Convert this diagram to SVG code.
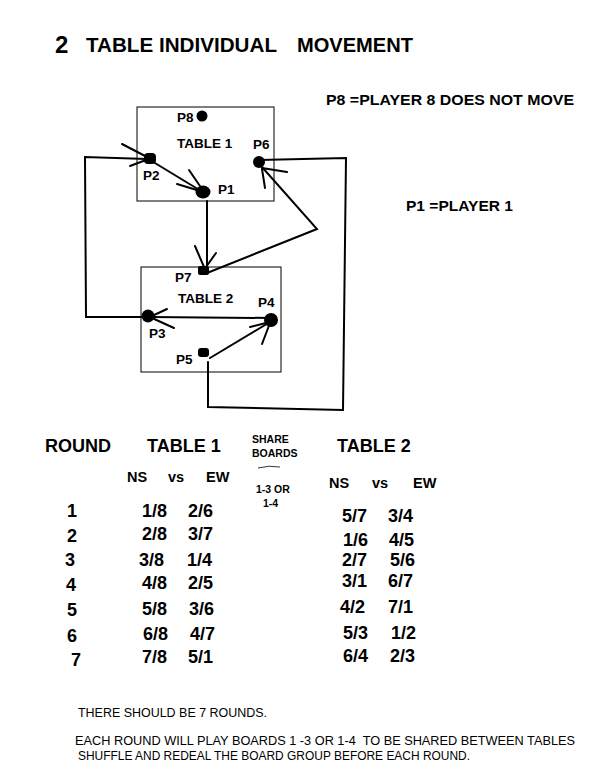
<svg xmlns="http://www.w3.org/2000/svg" width="595" height="771" viewBox="0 0 595 771">
<style>
text{font-family:"Liberation Sans",Arial,sans-serif;fill:#000}
.b{font-weight:bold}
.lbl{font-weight:bold;font-size:13.5px}
.hdr{font-weight:bold;font-size:18px}
.sub{font-weight:bold;font-size:14.5px}
.num{font-weight:bold;font-size:18px}
.note{font-size:12.5px}
.box{fill:#fff;stroke:#000;stroke-width:1}
.dot{fill:#000}
.cn{fill:none;stroke:#000;stroke-width:2;stroke-linecap:round;stroke-linejoin:miter}
</style>
<rect width="595" height="771" fill="#fff"/>

<g id="title">
<text x="55" y="53" class="b" font-size="24">2</text>
<text x="86" y="52" class="b" font-size="20" textLength="191" lengthAdjust="spacingAndGlyphs">TABLE INDIVIDUAL</text>
<text x="297" y="52" class="b" font-size="20" textLength="116" lengthAdjust="spacingAndGlyphs">MOVEMENT</text>
</g>

<g id="legend">
<text x="326" y="105" class="b" font-size="14" textLength="248" lengthAdjust="spacingAndGlyphs">P8 =PLAYER 8 DOES NOT MOVE</text>
<text x="406" y="211" class="b" font-size="14" textLength="107" lengthAdjust="spacingAndGlyphs">P1 =PLAYER 1</text>
</g>

<g id="table1">
<rect class="box" x="137" y="107" width="137" height="94"/>
<text x="177" y="148" class="b" font-size="13.5">TABLE 1</text>
</g>
<g id="table2">
<rect class="box" x="141" y="267" width="140" height="105"/>
<text x="178" y="303" class="b" font-size="13.5">TABLE 2</text>
</g>

<g id="connectors" class="cn">
<path d="M148,317 L86,317 L85,157 L147,159"/>
<path d="M122,144 L147,157 M130,166 L146,160"/>
<path d="M150,160 L201,191"/>
<path d="M189,170 L202,189 M177,184 L200,191"/>
<path d="M207,201 L207,266"/>
<path d="M195,246 L204,267 M216,253 L206,267"/>
<path d="M207,273 L317,229 L262,167"/>
<path d="M287,172 L262,168 M265,188 L262,169"/>
<path d="M259,160 L346,158 L343,410 L208,407 L208,362"/>
<path d="M210,358 L270,322"/>
<path d="M250,327 L270,322 M262,344 L270,323"/>
<path d="M271,318 L150,317"/>
<path d="M167,309 L152,316 M174,328 L152,318"/>
</g>

<g id="p8"><circle class="dot" cx="202" cy="116" r="5.5"/><text x="177" y="122" class="lbl">P8</text></g>
<g id="p6"><circle class="dot" cx="259" cy="162" r="6"/><text x="253" y="149" class="lbl">P6</text></g>
<g id="p2"><rect class="dot" x="144" y="153" width="12" height="11" rx="4"/><text x="143" y="180" class="lbl">P2</text></g>
<g id="p1"><ellipse class="dot" cx="203" cy="192" rx="7.5" ry="6.5"/><text x="218" y="194" class="lbl">P1</text></g>
<g id="p7"><rect class="dot" x="198" y="266" width="11" height="9" rx="2"/><text x="175" y="282" class="lbl">P7</text></g>
<g id="p3"><circle class="dot" cx="148" cy="316" r="6.5"/><text x="149" y="338" class="lbl">P3</text></g>
<g id="p4"><circle class="dot" cx="271" cy="320" r="7"/><text x="258" y="307" class="lbl">P4</text></g>
<g id="p5"><rect class="dot" x="198" y="348" width="11" height="9" rx="3"/><text x="176" y="364" class="lbl">P5</text></g>

<g id="schedule">
<text x="45" y="452" class="hdr">ROUND</text>
<text x="147" y="452" class="hdr">TABLE 1</text>
<text x="337" y="452" class="hdr">TABLE 2</text>
<text x="252" y="443" class="b" font-size="10.5">SHARE</text>
<text x="252" y="457" class="b" font-size="10.5">BOARDS</text>
<path d="M258,468 Q269,465 280,467" fill="none" stroke="#000" stroke-width="0.8"/>
<text x="256" y="493" class="b" font-size="10.5">1-3 OR</text>
<text x="263" y="507" class="b" font-size="10.5">1-4</text>
<text x="127" y="482" class="sub">NS</text>
<text x="168" y="482" class="sub">vs</text>
<text x="206" y="482" class="sub">EW</text>
<text x="329" y="488" class="sub">NS</text>
<text x="372" y="488" class="sub">vs</text>
<text x="413" y="488" class="sub">EW</text>

<text x="67" y="517" class="num">1</text>
<text x="67" y="542" class="num">2</text>
<text x="65" y="566" class="num">3</text>
<text x="66" y="591" class="num">4</text>
<text x="67" y="616" class="num">5</text>
<text x="67" y="642" class="num">6</text>
<text x="71" y="666" class="num">7</text>

<text x="142" y="517" class="num">1/8</text><text x="188" y="517" class="num">2/6</text>
<text x="142" y="540" class="num">2/8</text><text x="188" y="540" class="num">3/7</text>
<text x="139" y="566" class="num">3/8</text><text x="187" y="566" class="num">1/4</text>
<text x="142" y="589" class="num">4/8</text><text x="188" y="589" class="num">2/5</text>
<text x="142" y="615" class="num">5/8</text><text x="189" y="615" class="num">3/6</text>
<text x="143" y="640" class="num">6/8</text><text x="190" y="640" class="num">4/7</text>
<text x="142" y="663" class="num">7/8</text><text x="188" y="663" class="num">5/1</text>

<text x="342" y="522" class="num">5/7</text><text x="388" y="522" class="num">3/4</text>
<text x="343" y="546" class="num">1/6</text><text x="389" y="546" class="num">4/5</text>
<text x="342" y="566" class="num">2/7</text><text x="390" y="566" class="num">5/6</text>
<text x="342" y="587" class="num">3/1</text><text x="388" y="587" class="num">6/7</text>
<text x="340" y="613" class="num">4/2</text><text x="388" y="613" class="num">7/1</text>
<text x="343" y="639" class="num">5/3</text><text x="391" y="639" class="num">1/2</text>
<text x="343" y="662" class="num">6/4</text><text x="390" y="662" class="num">2/3</text>
</g>

<g id="notes">
<text x="78" y="717" class="note" textLength="189" lengthAdjust="spacingAndGlyphs">THERE SHOULD BE 7 ROUNDS.</text>
<text x="75" y="745" class="note" textLength="500" lengthAdjust="spacingAndGlyphs" xml:space="preserve">EACH ROUND WILL PLAY BOARDS 1 -3 OR 1-4  TO BE SHARED BETWEEN TABLES</text>
<text x="78" y="760" class="note" textLength="392" lengthAdjust="spacingAndGlyphs">SHUFFLE AND REDEAL THE BOARD GROUP BEFORE EACH ROUND.</text>
</g>
</svg>
